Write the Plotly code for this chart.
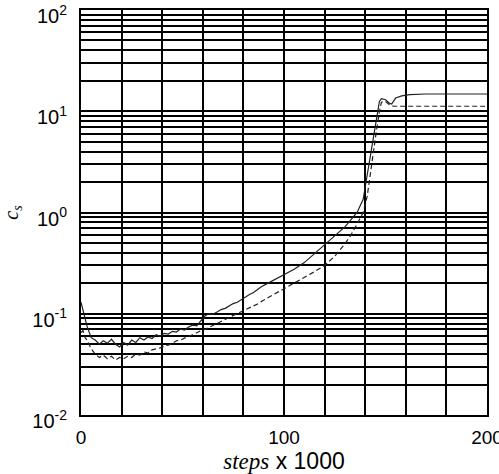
import plotly.graph_objects as go

# Data (steps x 1000, c_s)
solid_x = [0, 1, 3, 5, 7, 9, 11, 13, 15, 17, 19, 21, 23, 25, 27, 29, 31, 33, 35, 37, 39, 41, 43, 45, 47, 49,
           51, 53, 55, 57, 59, 61, 63, 65, 67, 69, 71, 73, 75, 77, 79, 81, 83, 85, 87, 89, 91, 95, 100, 105,
           110, 115, 120, 125, 130, 133, 136, 139, 141, 143, 145, 147, 148, 150, 152, 153, 155, 158, 162, 170, 200]
solid_y = [0.13, 0.11, 0.075, 0.058, 0.055, 0.05, 0.054, 0.051, 0.056, 0.05, 0.047, 0.052, 0.049, 0.055, 0.052,
           0.058, 0.055, 0.059, 0.057, 0.062, 0.060, 0.064, 0.063, 0.067, 0.066, 0.071, 0.069, 0.074, 0.077,
           0.076, 0.085, 0.095, 0.10, 0.099, 0.104, 0.11, 0.113, 0.12, 0.126, 0.13, 0.138, 0.148, 0.155, 0.162,
           0.175, 0.186, 0.195, 0.215, 0.24, 0.275, 0.32, 0.39, 0.48, 0.58, 0.72, 0.85, 1.0, 1.35, 2.4, 4.3,
           7.6, 12.5, 13.3, 13.0, 12.0, 11.8, 13.5, 14.2, 14.6, 14.8, 14.8]

dash_x = [0, 1, 2, 3, 5, 7, 9, 11, 13, 15, 17, 19, 21, 23, 25, 27, 29, 31, 33, 35, 37, 39, 41, 43, 45, 47, 49,
          51, 53, 55, 57, 59, 61, 63, 65, 67, 69, 71, 73, 75, 77, 79, 81, 83, 87, 91, 95, 100, 105, 110, 115,
          120, 125, 130, 133, 136, 139, 141, 143, 145, 147, 148, 150, 152, 154, 160, 200]
dash_y = [0.065, 0.068, 0.058, 0.055, 0.045, 0.04, 0.037, 0.039, 0.036, 0.038, 0.035, 0.037, 0.036, 0.038,
          0.037, 0.040, 0.039, 0.042, 0.041, 0.044, 0.045, 0.046, 0.048, 0.049, 0.051, 0.054, 0.055, 0.058,
          0.060, 0.062, 0.065, 0.068, 0.070, 0.073, 0.077, 0.080, 0.084, 0.088, 0.092, 0.096, 0.10, 0.104,
          0.108, 0.113, 0.125, 0.14, 0.155, 0.175, 0.2, 0.23, 0.26, 0.3, 0.37, 0.49, 0.6, 0.77, 1.0, 1.45,
          2.9, 5.4, 10.0, 12.3, 12.5, 11.6, 11.2, 11.2, 11.2]

x_grid = list(range(0, 201, 20))
x_labels = {0: "0", 100: "100", 200: "200"}
decades = [-2, -1, 0, 1, 2]

y_tickvals = []
y_ticktext = []
for d in decades:
    for k in range(1, 10):
        if d == 2 and k > 1:
            break
        y_tickvals.append(k * 10.0 ** d)
        y_ticktext.append(f"10<sup>{d}</sup>" if k == 1 else "")

fig = go.Figure()
fig.add_trace(go.Scatter(x=solid_x, y=solid_y, mode="lines",
                         line=dict(color="#222", width=1.2), showlegend=False))
fig.add_trace(go.Scatter(x=dash_x, y=dash_y, mode="lines",
                         line=dict(color="#222", width=1.2, dash="5px,3px"), showlegend=False))

fig.update_layout(
    width=499, height=474,
    margin=dict(l=81, r=12, t=10, b=59, autoexpand=False),
    paper_bgcolor="white", plot_bgcolor="white",
    font=dict(family="Liberation Sans, Arial", size=19, color="black"),
    xaxis=dict(
        range=[0, 200], tickvals=x_grid,
        ticktext=[x_labels.get(v, "") for v in x_grid],
        tickfont=dict(size=19), automargin=False,
        showgrid=True, gridcolor="black", gridwidth=1.5,
        showline=True, linecolor="black", linewidth=2, mirror=True,
        ticks="", ticklabelstandoff=4, ticklabeloverflow="allow", zeroline=False,
        title=dict(text='<span style="font-family:Liberation Serif"><i>steps</i></span> x 1000',
                   font=dict(size=23), standoff=0),
    ),
    yaxis=dict(
        type="log", range=[-2, 2], tickvals=y_tickvals, ticktext=y_ticktext,
        tickfont=dict(size=20), automargin=False,
        showgrid=True, gridcolor="black", gridwidth=1.5,
        showline=True, linecolor="black", linewidth=2, mirror=True,
        ticks="", ticklabelstandoff=8, ticklabelshift=6, ticklabeloverflow="allow", zeroline=False,
        title=dict(text='<span style="font-family:Liberation Serif"><i>c<sub>s</sub></i></span>',
                   font=dict(size=20), standoff=12),
    ),
)

fig.write_html("out.html")
